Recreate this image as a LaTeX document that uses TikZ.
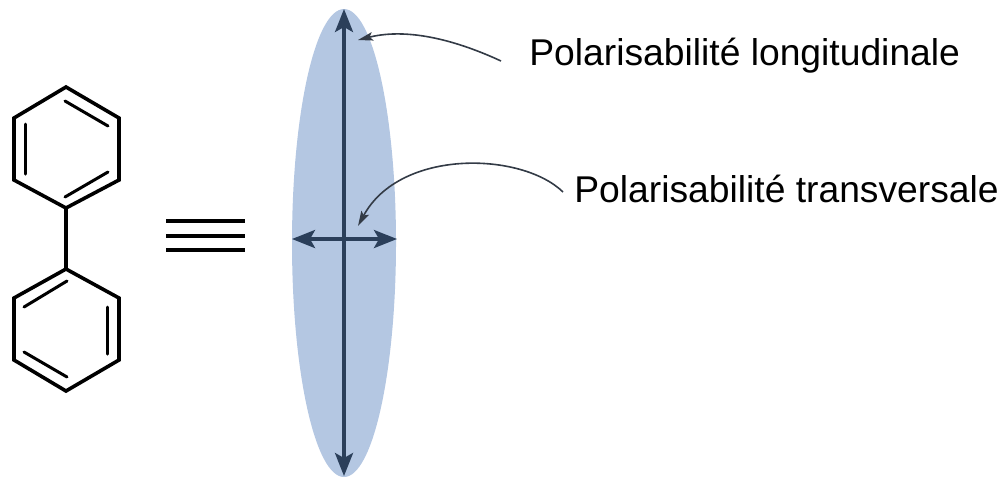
\documentclass[tikz,border=0pt]{standalone}
\usepackage{fontspec}
\setmainfont{Liberation Sans}
\usepackage{xcolor}
\usetikzlibrary{arrows.meta}
\definecolor{bleuell}{HTML}{B4C7E2}
\definecolor{bleuaxe}{HTML}{2B3F5A}
\definecolor{gristrait}{HTML}{333B46}
\begin{document}
\begin{tikzpicture}[x=0.02cm, y=-0.02cm,
  liaison/.style={line width=0.072cm, line cap=round, line join=miter, black},
  liaisonint/.style={line width=0.06cm, line cap=round, black},
  egal/.style={line width=0.062cm, black},
  axe/.style={{Stealth[length=0.46cm, width=0.36cm, inset=0.1cm]}-{Stealth[length=0.46cm, width=0.36cm, inset=0.1cm]}, line width=0.07cm, bleuaxe},
  renvoi/.style={-{Stealth[length=0.3cm, width=0.17cm, inset=0.06cm]}, line width=0.032cm, gristrait},
  legende/.style={inner sep=0pt, anchor=base west, font=\fontsize{21.2}{24}\selectfont}]
\useasboundingbox (0,0) rectangle (1006,481);
% biphenyle
\draw[liaison] (66,87) -- (119,118) -- (119,180) -- (66,208) -- (14,180) -- (14,118) -- cycle;
\draw[liaison] (66,269) -- (119,298) -- (119,360) -- (66,391) -- (14,360) -- (14,298) -- cycle;
\coordinate (h) at (66,208); \coordinate (b) at (66,269);
\draw[liaison] (h) -- (b);
\draw[liaisonint] (65,101) -- (108,126); \draw[liaisonint] (25,124) -- (25,174); \draw[liaisonint] (65,197) -- (108,172);
\draw[liaisonint] (24,307) -- (67,281); \draw[liaisonint] (107,307) -- (107,354); \draw[liaisonint] (24,352) -- (67,377);
% equivalence
\foreach \y in {221,236,250}
  \draw[egal] (166,\y) -- (245,\y);
% ellipsoide
\fill[bleuell] (344,243) ellipse (52 and 234);
\coordinate (ht) at (344,9); \coordinate (bs) at (344,476);
\coordinate (gc) at (292,239); \coordinate (dr) at (397,239);
\draw[axe] (ht) -- (bs);
\draw[axe] (gc) -- (dr);
% legendes
\node[legende] (long) at (529,65) {Polarisabilité longitudinale};
\node[legende] (trans) at (574,202) {Polarisabilité transversale};
\coordinate (dl) at (501,61); \coordinate (fl) at (358,40);
\coordinate (dt) at (563,192); \coordinate (ft) at (358,226);
\draw[renvoi] (dl) .. controls (460,42) and (410,27) .. (fl);
\draw[renvoi] (dt) .. controls (522,152) and (400,148) .. (ft);
\end{tikzpicture}
\end{document}
